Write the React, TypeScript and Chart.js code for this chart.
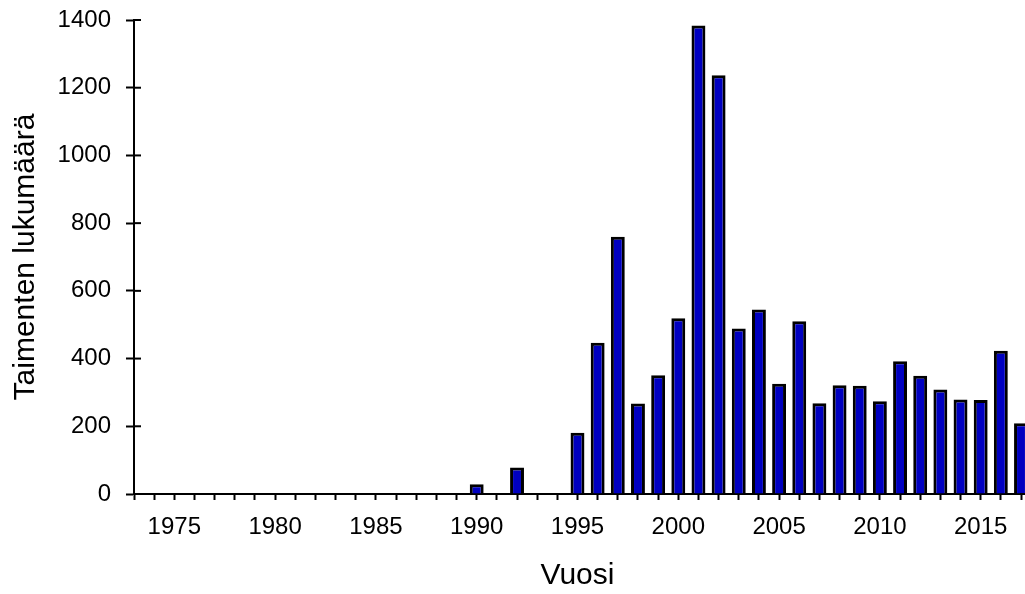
import React, { useEffect, useRef } from "react";
import { Chart, registerables } from "chart.js";

Chart.register(...registerables);

const years: string[] = [
  "1973", "1974", "1975", "1976", "1977", "1978", "1979", "1980", "1981", "1982",
  "1983", "1984", "1985", "1986", "1987", "1988", "1989", "1990", "1991", "1992",
  "1993", "1994", "1995", "1996", "1997", "1998", "1999", "2000", "2001", "2002",
  "2003", "2004", "2005", "2006", "2007", "2008", "2009", "2010", "2011", "2012",
  "2013", "2014", "2015", "2016", "2017",
];

const counts: number[] = [
  0, 0, 0, 0, 0, 0, 0, 0, 0, 0,
  0, 0, 0, 0, 0, 0, 0, 29, 0, 78,
  0, 0, 181, 447, 760, 267, 351, 519, 1384, 1237,
  489, 545, 326, 510, 268, 321, 320, 274, 392, 349,
  309, 279, 278, 423, 209,
];

const shownYearLabels: string[] = ["1975", "1980", "1985", "1990", "1995", "2000", "2005", "2010", "2015"];
const yTicks: number[] = [0, 200, 400, 600, 800, 1000, 1200, 1400];

const FONT = "'Liberation Sans', Arial, Helvetica, sans-serif";

const axisExtras = {
  id: "axisExtras",
  afterDraw(chart: any) {
    const y = chart.scales.y;
    const ctx = chart.ctx;
    const { left, right, bottom } = chart.chartArea;
    ctx.save();
    ctx.strokeStyle = "#000";
    ctx.lineWidth = 2;
    // inner halves of the y-axis tick marks (ticks cross the axis)
    y.ticks.forEach((t: any) => {
      const py = y.getPixelForValue(t.value);
      ctx.beginPath();
      ctx.moveTo(left, py);
      ctx.lineTo(left + 7, py);
      ctx.stroke();
    });
    // x axis line continues to the picture's right edge
    ctx.beginPath();
    ctx.moveTo(right - 1, bottom);
    ctx.lineTo(chart.width, bottom);
    ctx.stroke();
    ctx.restore();
  },
};

export default function App() {
  const ref = useRef<HTMLCanvasElement | null>(null);

  useEffect(() => {
    if (!ref.current) return;
    const chart = new Chart(ref.current, {
      type: "bar",
      data: {
        labels: years,
        datasets: [
          {
            data: counts,
            backgroundColor: "#0000c0",
            borderColor: "#000000",
            borderWidth: 3,
            barPercentage: 0.69,
            categoryPercentage: 1,
            clip: false,
          },
        ],
      },
      options: {
        animation: false,
        responsive: false,
        events: [],
        layout: { padding: { top: 20, right: 4, left: 0, bottom: 0 } },
        plugins: {
          legend: { display: false },
          tooltip: { enabled: false },
        },
        scales: {
          x: {
            type: "category",
            offset: false,
            afterFit: (scale: any) => {
              scale.height = 100;
              scale.paddingLeft = 0;
              scale.paddingRight = 0;
            },
            grid: {
              offset: false,
              drawOnChartArea: false,
              drawTicks: true,
              tickLength: 6,
              tickWidth: 2,
              tickColor: "#000",
              color: "#000",
            },
            border: { display: true, color: "#000", width: 2 },
            ticks: {
              autoSkip: false,
              maxRotation: 0,
              minRotation: 0,
              padding: 13,
              color: "#000",
              font: { family: FONT, size: 24 },
              callback: (_v: any, i: number) => (shownYearLabels.includes(years[i]) ? years[i] : ""),
            },
            title: {
              display: true,
              text: "Vuosi",
              color: "#000",
              font: { family: FONT, size: 30 },
              padding: { top: 0, bottom: 0 },
            },
          },
          y: {
            min: 0,
            max: 1400,
            afterFit: (scale: any) => {
              scale.width = 134;
              scale.paddingTop = 0;
              scale.paddingBottom = 0;
            },
            afterBuildTicks: (scale: any) => {
              scale.ticks = yTicks.map((v) => ({ value: v }));
            },
            grid: {
              drawOnChartArea: false,
              drawTicks: true,
              tickLength: 8,
              tickWidth: 2,
              tickColor: "#000",
              color: "#000",
            },
            border: { display: true, color: "#000", width: 2 },
            ticks: {
              padding: 15,
              color: "#000",
              font: { family: FONT, size: 24 },
              callback: (v: any) => String(v),
            },
            title: {
              display: true,
              text: "Taimenten lukumäärä",
              color: "#000",
              font: { family: FONT, size: 30 },
              padding: { top: 8, bottom: 0 },
            },
          },
        },
      },
      plugins: [axisExtras],
    });
    return () => chart.destroy();
  }, []);

  return (
    <canvas
      ref={ref}
      width={1025}
      height={594}
      style={{ position: "fixed", left: 0, top: 0, display: "block", background: "#fff" }}
    />
  );
}
